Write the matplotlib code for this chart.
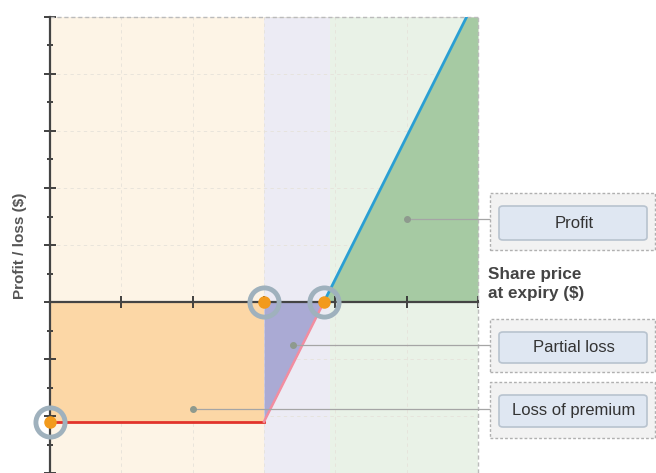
import numpy as np
import matplotlib
matplotlib.use("Agg")
import matplotlib.pyplot as plt
from matplotlib.patches import FancyBboxPatch, Rectangle
from matplotlib.ticker import MultipleLocator

plt.rcParams['font.family'] = ['Liberation Sans', 'DejaVu Sans']

# --- データ (読み取り値) ---
strike = 3.0
premium = 4.2
leverage = 5.0
x_range = [0, 6]
y_range = [-6, 10]
breakeven = strike + premium / leverage

zone_edges = [0, strike, 3.93, 6]
zone_colors = ["#fdf4e6", "#ecebf4", "#e9f2e7"]

region_names = ["Profit", "Partial loss", "Loss of premium"]
region_points = [(5.0, 2.9), (3.4, -1.5), (2.0, -3.75)]

# 図のピクセル座標 -> 図の比率
W, H = 656, 473
def fx(px):
    return px / W
def fy(py):
    return 1 - py / H

fig = plt.figure(figsize=(W / 100, H / 100), dpi=100)
ax = fig.add_axes([fx(50), 0, fx(478) - fx(50), fy(17)])
ax.set_xlim(*x_range)
ax.set_ylim(*y_range)

# 背景の帯
for i in range(3):
    ax.axvspan(zone_edges[i], zone_edges[i + 1], color=zone_colors[i], zorder=0, lw=0)

# うっすらグリッド
for gy in range(-4, 11, 2):
    ax.axhline(gy, color="#e6e2da", lw=0.6, ls=(0, (4, 4)), zorder=0.5)
for gx in range(1, 6):
    ax.axvline(gx, color="#e6e2da", lw=0.6, ls=(0, (4, 4)), zorder=0.5)

# 損益曲線
xs = np.linspace(0, 6, 601)
payoff = np.maximum(-premium, leverage * (xs - strike) - premium)

ax.fill_between(xs, payoff, 0, where=xs <= strike, color="#fcd7a6", lw=0, zorder=1)
ax.fill_between(xs, payoff, 0, where=(xs >= strike) & (xs <= breakeven),
                color="#aaaad4", lw=0, zorder=1)
ax.fill_between(xs, 0, np.minimum(payoff, y_range[1]), where=xs >= breakeven,
                color="#a6caa3", lw=0, zorder=1)

m1 = xs <= strike
m2 = (xs >= strike) & (xs <= breakeven)
m3 = xs >= breakeven
ax.plot(xs[m1], payoff[m1], color="#e2332b", lw=2, zorder=3)
ax.plot(xs[m2], payoff[m2], color="#f28da0", lw=1.8, zorder=3)
ax.plot(xs[m3], payoff[m3], color="#2a9fd3", lw=2, zorder=3)

# 枠の点線
ax.axhline(y_range[1], color="#bbbbbb", lw=1, ls=(0, (3, 2)), zorder=2, clip_on=False)
ax.axvline(x_range[1], color="#bbbbbb", lw=1, ls=(0, (3, 2)), zorder=2, clip_on=False)

# 軸
for s in ["top", "right"]:
    ax.spines[s].set_visible(False)
ax.spines["bottom"].set_position(("data", 0))
ax.spines["bottom"].set_color("#444444")
ax.spines["bottom"].set_linewidth(1.6)
ax.spines["left"].set_color("#444444")
ax.spines["left"].set_linewidth(1.6)
ax.spines["bottom"].set_zorder(2.5)
ax.yaxis.set_major_locator(MultipleLocator(2))
ax.yaxis.set_minor_locator(MultipleLocator(1))
ax.xaxis.set_major_locator(MultipleLocator(1))
ax.tick_params(axis="y", which="major", direction="inout", length=9, width=1.3, color="#333333")
ax.tick_params(axis="y", which="minor", direction="inout", length=5, width=1.3, color="#333333")
ax.tick_params(axis="x", which="major", direction="inout", length=9, width=1.3, color="#333333")
ax.set_xticklabels([])
ax.set_yticklabels([])

# 重要な点のマーカー
key_points = [(0, -premium), (strike, 0), (breakeven, 0)]
for px_, py_ in key_points:
    ax.plot(px_, py_, "o", ms=21, mfc="none", mec="#9fb1bd", mew=3.5, zorder=5, clip_on=False)
    ax.plot(px_, py_, "o", ms=8, color="#f29a1c", zorder=6, clip_on=False)

# 引き出し線
line_end = (490 - 50) / ((478 - 50) / 6)
for (dx, dy) in region_points:
    ax.plot([dx, line_end], [dy, dy], color="#a5a5a5", lw=0.9, zorder=4, clip_on=False)
    ax.plot(dx, dy, "o", ms=4, color="#8e9a8e", zorder=4)

# ラベルの箱
boxes_px = [(193, 250, 206, 240), (319, 372, 332, 363), (382, 438, 395, 427)]
for name, (o_top, o_bot, i_top, i_bot) in zip(region_names, boxes_px):
    outer = Rectangle((fx(490), fy(o_bot)), fx(655) - fx(490), fy(o_top) - fy(o_bot),
                      transform=fig.transFigure, facecolor="#f2f2f2",
                      edgecolor="#b0b0b0", lw=1, ls=(0, (2, 1.5)))
    fig.add_artist(outer)
    inner = FancyBboxPatch((fx(499), fy(i_bot)), fx(647) - fx(499), fy(i_top) - fy(i_bot),
                           boxstyle="round,pad=0,rounding_size=0.006",
                           transform=fig.transFigure, facecolor="#dfe7f2",
                           edgecolor="#b8c3cf", lw=1.2)
    fig.add_artist(inner)
    fig.text(fx(574), fy((i_top + i_bot) / 2), name, ha="center", va="center",
             fontsize=12, color="#333333")

# 軸ラベル
fig.text(fx(20), fy(246), "Profit / loss ($)", rotation=90, ha="center", va="center",
         fontsize=11, fontweight="bold", color="#555555")
fig.text(fx(488), fy(284), "Share price\nat expiry ($)", ha="left", va="center",
         fontsize=12.3, fontweight="bold", color="#444444", linespacing=1.4)

fig.savefig("out.png", dpi=100)
